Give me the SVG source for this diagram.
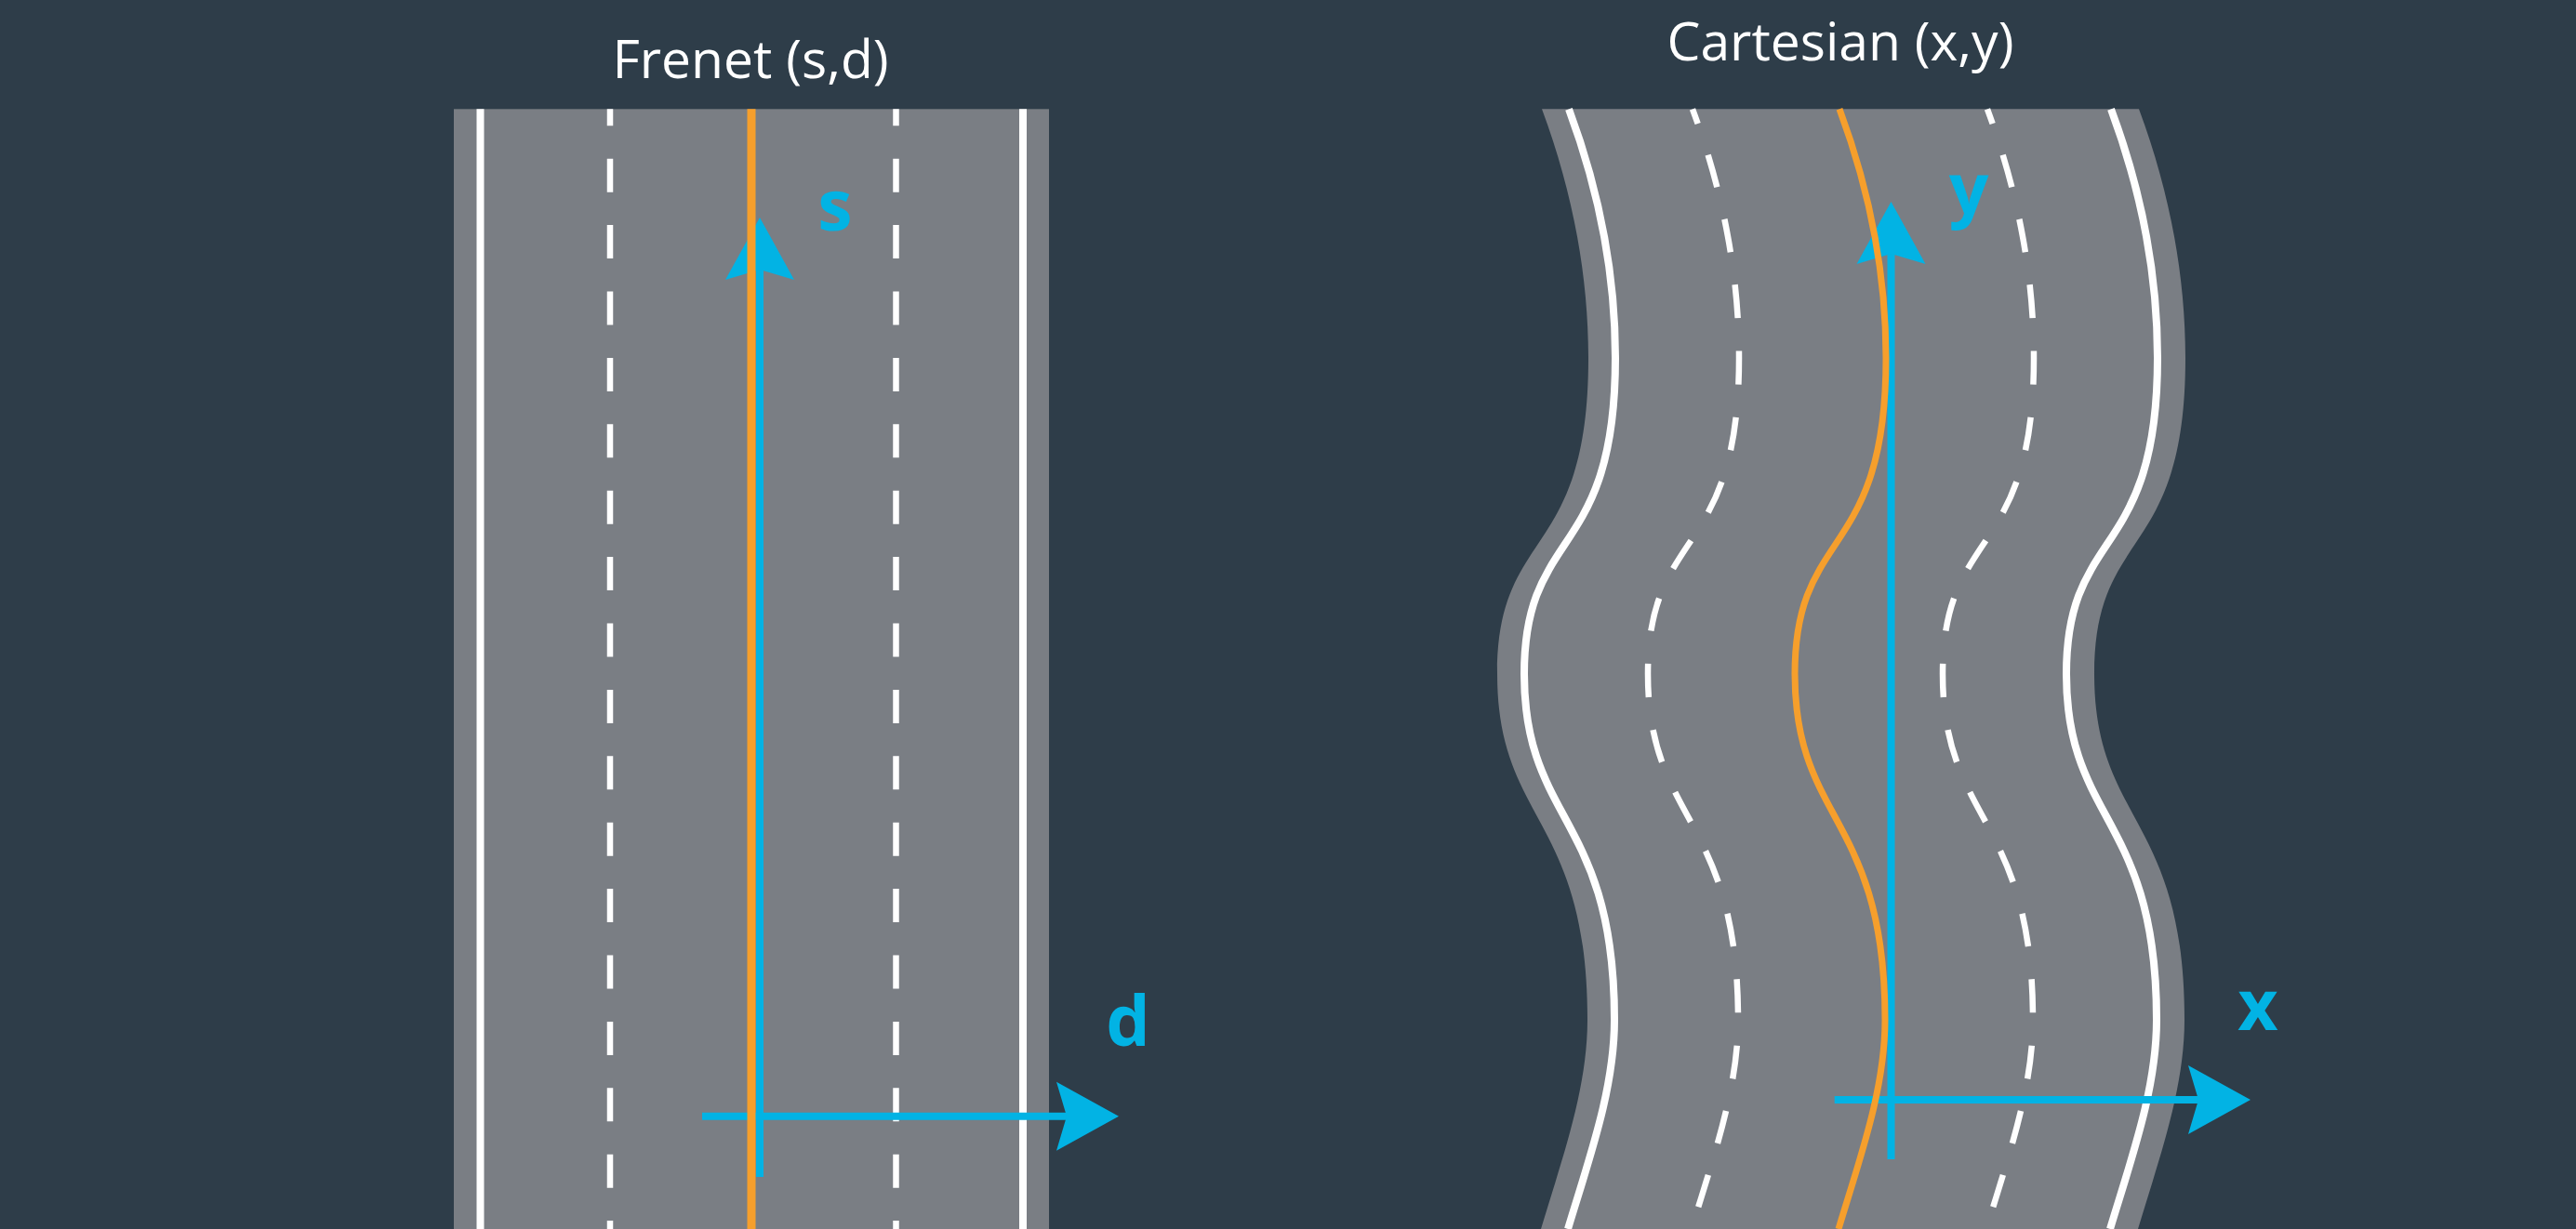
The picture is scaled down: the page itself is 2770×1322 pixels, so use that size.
<svg xmlns="http://www.w3.org/2000/svg" width="2770" height="1322" viewBox="0 0 2770 1322">
<style>
.bg{fill:#2e3d49}
.road{fill:#7a7e84}
.edge{fill:none;stroke:#ffffff;stroke-width:8}
.dash{fill:none;stroke:#ffffff;stroke-width:6.5;stroke-dasharray:36 35.4}
.ctr{fill:none;stroke:#f69f2c}
.axis{fill:none;stroke:#02b3e4;stroke-width:8;marker-end:url(#ah)}
.title{font-family:"Open Sans","Noto Sans","Liberation Sans",sans-serif;font-size:57px;fill:#ffffff;text-anchor:middle}
.lbl{font-family:"Open Sans","Noto Sans","Liberation Sans",sans-serif;font-size:75px;font-weight:700;fill:#02b3e4;text-anchor:middle}
</style>
<defs>
<marker id="ah" markerUnits="userSpaceOnUse" orient="auto" viewBox="-20 -40 80 80" markerWidth="80" markerHeight="80" refX="0" refY="0">
<path d="M56,0 L-11,-37 L0,0 L-11,37 Z" fill="#02b3e4"/>
</marker>
<path id="cl" d="M1978,117.3 C2011,206 2028,296 2028,385 C2028,605 1930,565 1930,725 C1930,885 2027,877 2027,1097 C2027,1172 1999.5,1247 1977,1322"/>
</defs>
<rect class="bg" x="0" y="0" width="2770" height="1322"/>

<g id="frenet-road">
<rect class="road" x="488" y="117.3" width="640" height="1205"/>
<line class="edge" x1="516.5" y1="117.3" x2="516.5" y2="1322"/>
<line class="edge" x1="1100" y1="117.3" x2="1100" y2="1322"/>
<line class="dash" x1="656" y1="117.3" x2="656" y2="1322" style="stroke-dashoffset:18"/>
<line class="dash" x1="963.5" y1="117.3" x2="963.5" y2="1322" style="stroke-dashoffset:18"/>
</g>

<g id="cartesian-road">
<path class="road" d="M1658,117.3 C1691,206 1708,296 1708,385 C1708,605 1610,565 1610,725 C1610,885 1707,877 1707,1097 C1707,1172 1679.5,1247 1657,1322 L2299,1322 C2321.5,1247 2349,1172 2349,1097 C2349,877 2252,885 2252,725 C2252,565 2350,605 2350,385 C2350,296 2333,206 2300,117.3 Z"/>
<use href="#cl" class="edge" transform="translate(-291 0)"/>
<use href="#cl" class="edge" transform="translate(292 0)"/>
<use href="#cl" class="dash" transform="translate(-158 0)" style="stroke-dashoffset:19.4"/>
<use href="#cl" class="dash" transform="translate(159 0)" style="stroke-dashoffset:19.4"/>
</g>

<g id="connectors">
<line id="s-axis" class="axis" x1="817" y1="1266" x2="817" y2="290"/>
<line id="d-axis" class="axis" x1="755" y1="1200.7" x2="1147" y2="1200.7"/>
<line id="y-axis" class="axis" x1="2033.5" y1="1247" x2="2033.5" y2="273"/>
<line id="x-axis" class="axis" x1="1972.7" y1="1183" x2="2364" y2="1183"/>
</g>

<g id="frenet-centerline">
<line class="ctr" x1="808" y1="117.3" x2="808" y2="1322" style="stroke-width:9"/>
</g>
<g id="cartesian-centerline">
<use href="#cl" class="ctr" style="stroke-width:7"/>
</g>

<g id="titles">
<text id="frenet-title" class="title" x="807" y="84">Frenet (s,d)</text>
<text id="cartesian-title" class="title" x="1979" y="65">Cartesian (x,y)</text>
</g>

<g id="labels">
<text id="label-s" class="lbl" x="898" y="248">s</text>
<text id="label-d" class="lbl" x="1213" y="1125">d</text>
<text id="label-y" class="lbl" x="2117" y="230">y</text>
<text id="label-x" class="lbl" x="2428" y="1108">x</text>
</g>
</svg>
